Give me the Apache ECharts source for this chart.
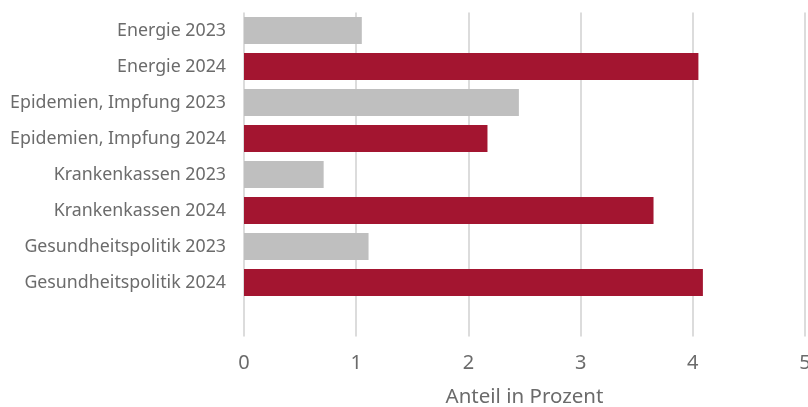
<!DOCTYPE html>
<html>
<head>
<meta charset="utf-8">
<script src="https://cdn.jsdelivr.net/npm/echarts@6/dist/echarts.min.js"></script>
<style>
  html, body { margin: 0; padding: 0; background: #fff; }
  #chart { width: 808px; height: 407px; }
</style>
</head>
<body>
<div id="chart"></div>
<script>
// Kategorien von oben nach unten (letzte leer = Abstand unten)
var categories = ['Energie 2023', 'Energie 2024', 'Epidemien, Impfung 2023', 'Epidemien, Impfung 2024',
    'Krankenkassen 2023', 'Krankenkassen 2024', 'Gesundheitspolitik 2023', 'Gesundheitspolitik 2024', ''];
var values = [1.05, 4.05, 2.45, 2.17, 0.71, 3.65, 1.11, 4.09, null];
var years = ['2023', '2024', '2023', '2024', '2023', '2024', '2023', '2024', ''];
var xTicks = [0, 1, 2, 3, 4, 5];

var colors = { '2023': '#bfbfbf', '2024': '#a31530' };
var txt = '#6b6b6b';
var font = '"Noto Sans"';

var chart = echarts.init(document.getElementById('chart'));
var option = {
    animation: false,
    grid: { left: 244, right: 3, top: 12.5, bottom: 70.5, containLabel: false, outerBoundsMode: 'none' },
    xAxis: {
        type: 'value',
        min: xTicks[0],
        max: xTicks[xTicks.length - 1],
        interval: 1,
        name: 'Anteil in Prozent',
        nameLocation: 'middle',
        nameGap: 50,
        nameTextStyle: { color: txt, fontSize: 20.5, fontFamily: font },
        axisLine: { show: false },
        axisTick: { show: false },
        axisLabel: { color: txt, fontSize: 20, fontFamily: font, margin: 17, hideOverlap: false },
        splitLine: { show: true, lineStyle: { color: '#dcdcdc', width: 2 } }
    },
    yAxis: {
        type: 'category',
        inverse: true,
        data: categories,
        axisLine: { show: false },
        axisTick: { show: false },
        axisLabel: { color: txt, fontSize: 17.8, fontFamily: font, margin: 18 }
    },
    series: [{
        type: 'bar',
        barCategoryGap: '25%',
        data: values.map(function (v, i) {
            return { value: v, itemStyle: { color: colors[years[i]] } };
        })
    }]
};
chart.setOption(option);
</script>
</body>
</html>
